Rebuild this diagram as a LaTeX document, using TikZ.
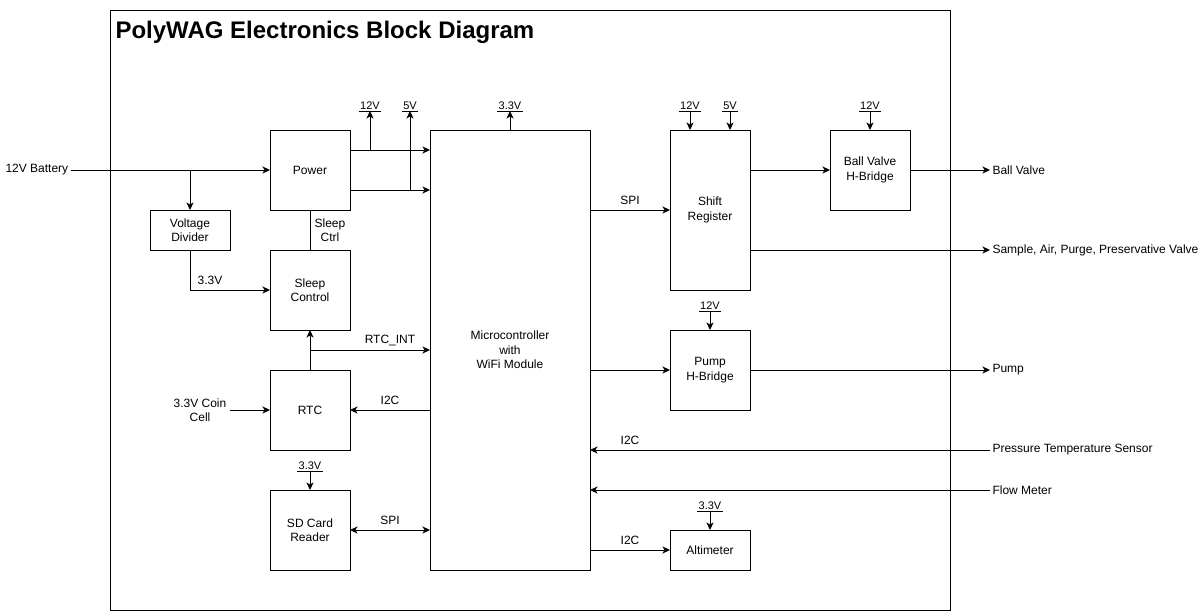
\documentclass[tikz,border=0pt]{standalone}
\usepackage{fontspec}
\setmainfont{Liberation Sans}
\usetikzlibrary{arrows.meta,calc}
\newcommand\ftxt{\fontsize{12}{14.4}\selectfont}
\newcommand\fsup{\fontsize{11}{13}\selectfont}
\begin{document}
\begin{tikzpicture}[x=1pt,y=-1pt,line width=1pt,
  box/.style={draw,inner sep=0pt,outer sep=0pt,minimum width=80pt,align=center,font=\ftxt},
  lbl/.style={inner sep=1pt,font=\ftxt,align=center},
  sup/.style={anchor=south,inner xsep=1pt,inner ysep=1pt,font=\fsup},
  outtxt/.style={anchor=west,inner xsep=2pt,inner ysep=1pt,font=\ftxt},
  arr/.style={-{Stealth[length=7.5pt,width=7pt,inset=2pt]}},
  arrs/.style={{Stealth[length=7.5pt,width=7pt,inset=2pt]}-{Stealth[length=7.5pt,width=7pt,inset=2pt]}}]
\useasboundingbox (0,0) rectangle (1200,611);
% frame and title
\draw (110,10) rectangle (950,610);
\node[anchor=base west,inner sep=0pt,font=\fontsize{24}{28}\selectfont\bfseries] (title) at (115,38) {PolyWAG Electronics Block Diagram};
% boxes
\node[box,minimum height=80pt] (power) at (310,170) {Power};
\node[box,minimum height=40pt] (vdiv) at (190,230) {Voltage\\Divider};
\node[box,minimum height=80pt] (sleep) at (310,290) {Sleep\\Control};
\node[box,minimum height=80pt] (rtc) at (310,410) {RTC};
\node[box,minimum height=80pt] (sd) at (310,530) {SD Card\\Reader};
\node[box,minimum width=160pt,minimum height=440pt] (mcu) at (510,350) {Microcontroller\\with\\WiFi Module};
\node[box,minimum height=160pt] (shift) at (710,210) {Shift\\Register};
\node[box,minimum height=80pt] (bv) at (870,170) {Ball Valve\\H-Bridge};
\node[box,minimum height=80pt] (pump) at (710,370) {Pump\\H-Bridge};
\node[box,minimum height=40pt] (alt) at (710,550) {Altimeter};
% external texts
\node[anchor=west,inner xsep=2pt,font=\ftxt] (batt) at (3,170) {12V Battery};
\node[lbl] (coin) at (200,410) {3.3V Coin\\Cell};
\node[outtxt] (bvout) at (990,170) {Ball Valve};
\node[outtxt] (valves) at (990,250) {Sample, Air, Purge, Preservative Valve};
\node[outtxt] (pumpout) at (990,370) {Pump};
\node[outtxt] (pts) at (990,450) {Pressure Temperature Sensor};
\node[outtxt] (flow) at (990,490) {Flow Meter};
% supply labels
\node[sup] (s12a) at (370,111) {12V};
\node[sup] (s5a) at (410,111) {5V};
\node[sup] (s33a) at (510,111) {3.3V};
\node[sup] (s12b) at (690,111) {12V};
\node[sup] (s5b) at (730,111) {5V};
\node[sup] (s12c) at (870,111) {12V};
\node[sup] (s12d) at (710,311) {12V};
\node[sup] (s33b) at (310,471) {3.3V};
\node[sup] (s33c) at (710,511) {3.3V};
\foreach \s in {s12a,s5a,s33a,s12b,s5b,s12c,s12d,s33b,s33c}
  \draw (\s.south west) -- (\s.south east);
% battery and power
\coordinate (j1) at (vdiv.north |- power.west);
\draw[arr] (batt.east) -- (power.west);
\draw[arr] (j1) -- (vdiv.north);
\draw[arr] (vdiv.south) |- (sleep.west);
\draw (power.south) -- (sleep.north);
\coordinate (pw12) at ($(power.north east)!0.25!(power.south east)$);
\coordinate (pw5) at ($(power.north east)!0.75!(power.south east)$);
\draw[arr] (pw12) -- (pw12 -| mcu.west);
\draw[arr] (pw5) -- (pw5 -| mcu.west);
\draw[arr] (pw12 -| s12a.south) -- (s12a.south);
\draw[arr] (pw5 -| s5a.south) -- (s5a.south);
\draw[arr] (mcu.north) -- (s33a.south);
% RTC, sleep, SD
\coordinate (ri) at ($(rtc.north)!0.5!(sleep.south)$);
\draw[arr] (rtc.north) -- (sleep.south);
\draw[arr] (ri) -- (ri -| mcu.west);
\draw[arr] (coin.east -| 230,0) -- (rtc.west);
\draw[arr] (mcu.west |- rtc.east) -- (rtc.east);
\draw[arr] (s33b.south) -- (sd.north);
\draw[arrs] (sd.east) -- (sd.east -| mcu.west);
% right side
\draw[arr] (mcu.east |- shift.west) -- (shift.west);
\draw[arr] (s12b.south) -- (s12b.south |- shift.north);
\draw[arr] (s5b.south) -- (s5b.south |- shift.north);
\draw[arr] (shift.east |- bv.west) -- (bv.west);
\draw[arr] (s12c.south) -- (bv.north);
\draw[arr] (bv.east) -- (bvout.west);
\draw[arr] (shift.east |- valves.west) -- (valves.west);
\draw[arr] (s12d.south) -- (pump.north);
\draw[arr] (mcu.east |- pump.west) -- (pump.west);
\draw[arr] (pump.east) -- (pumpout.west);
\draw[arr] (pts.west) -- (pts.west -| mcu.east);
\draw[arr] (flow.west) -- (flow.west -| mcu.east);
\draw[arr] (s33c.south) -- (alt.north);
\draw[arr] (mcu.east |- alt.west) -- (alt.west);
% connector labels
\node[lbl] (l33) at (210,280) {3.3V};
\node[lbl] (lsc) at (330,230) {Sleep\\Ctrl};
\node[lbl] (lrtcint) at (390,340) {RTC\_INT};
\node[lbl] (li2ca) at (390,400) {I2C};
\node[lbl] (lspia) at (390,520) {SPI};
\node[lbl] (lspib) at (630,200) {SPI};
\node[lbl] (li2cb) at (630,440) {I2C};
\node[lbl] (li2cc) at (630,540) {I2C};
\end{tikzpicture}
\end{document}
